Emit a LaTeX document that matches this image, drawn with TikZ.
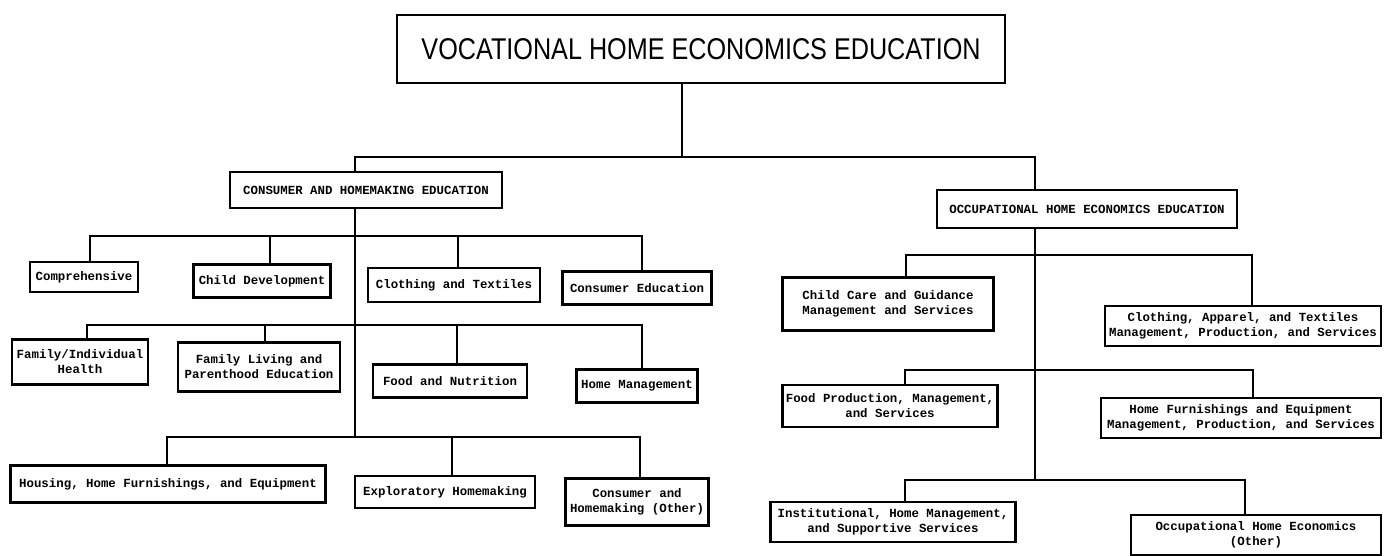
\documentclass[tikz,border=0pt]{standalone}
\usepackage{fontspec}
\newfontfamily\titlefont[FakeStretch=0.84]{Liberation Sans}
\newfontfamily\lblfont{Liberation Mono}
\begin{document}
\begin{tikzpicture}[x=1pt,y=-1pt,
  box/.style={draw, line width=2.5pt, inner sep=1pt, align=center,
    font=\lblfont\bfseries\fontsize{12.4}{15}\selectfont},
  titlebox/.style={draw, line width=1.8pt, inner sep=2pt, align=center,
    font=\titlefont\fontsize{30}{34}\selectfont},
  conn/.style={line width=2.4pt, line cap=rect},
  thin/.style={line width=1.6pt, line cap=rect}]
\useasboundingbox (0,0) rectangle (1384,556);

% title and main branches
\node[titlebox, minimum width=608pt, minimum height=68pt] (t) at (701,49) {VOCATIONAL HOME ECONOMICS EDUCATION};
\node[box, minimum width=272pt, minimum height=36pt] (ch) at (366,190) {CONSUMER AND HOMEMAKING EDUCATION};
\node[box, minimum width=300pt, minimum height=38pt] (oh) at (1087,209) {OCCUPATIONAL HOME ECONOMICS EDUCATION};

% consumer and homemaking children
\node[box, minimum width=108pt, minimum height=30pt] (c1) at (84,277) {Comprehensive};
\node[box, minimum width=137pt, minimum height=33pt] (c2) at (262,281) {Child Development};
\node[box, minimum width=172pt, minimum height=34pt] (c3) at (454,285) {Clothing and Textiles};
\node[box, minimum width=149pt, minimum height=33pt] (c4) at (637,288) {Consumer Education};
\node[box, minimum width=136pt, minimum height=45pt] (c5) at (80,362) {Family/Individual\\Health};
\node[box, minimum width=162pt, minimum height=49pt] (c6) at (259,367) {Family Living and\\Parenthood Education};
\node[box, minimum width=154pt, minimum height=33pt] (c7) at (450,381) {Food and Nutrition};
\node[box, minimum width=121pt, minimum height=33pt] (c8) at (637,386) {Home Management};
\node[box, minimum width=315pt, minimum height=37pt] (c9) at (168,484) {Housing, Home Furnishings, and Equipment};
\node[box, minimum width=180pt, minimum height=32pt] (c10) at (445,492) {Exploratory Homemaking};
\node[box, minimum width=143pt, minimum height=47pt] (c11) at (637,502) {Consumer and\\Homemaking (Other)};

% occupational children
\node[box, minimum width=211pt, minimum height=53pt] (o1) at (888,304) {Child Care and Guidance\\Management and Services};
\node[box, minimum width=276pt, minimum height=40pt] (o2) at (1243,326) {Clothing, Apparel, and Textiles\\Management, Production, and Services};
\node[box, minimum width=215pt, minimum height=42pt] (o3) at (890,406) {Food Production, Management,\\and Services};
\node[box, minimum width=280pt, minimum height=40pt] (o4) at (1241,418) {Home Furnishings and Equipment\\Management, Production, and Services};
\node[box, minimum width=245pt, minimum height=40pt] (o5) at (893,522) {Institutional, Home Management,\\and Supportive Services};
\node[box, minimum width=250pt, minimum height=40pt] (o6) at (1256,535) {Occupational Home Economics\\(Other)};

% junction coordinates
\coordinate (tb) at (682,157);
\coordinate (bl) at (355,157);
\coordinate (br) at (1035,157);
\coordinate (lh) at (355,437);
\coordinate (rh) at (1035,480);
% left rows
\coordinate (a1) at (90,236);  \coordinate (a2) at (270,236);
\coordinate (a3) at (458,236); \coordinate (a4) at (642,236);
\coordinate (b1) at (87,325);  \coordinate (b2) at (265,325);
\coordinate (b3) at (457,325); \coordinate (b4) at (642,325);
\coordinate (e1) at (167,437); \coordinate (e2) at (452,437);
\coordinate (e3) at (640,437);
% right rows
\coordinate (f1) at (906,255);  \coordinate (f2) at (1252,255);
\coordinate (g1) at (905,370);  \coordinate (g2) at (1253,370);
\coordinate (h1) at (905,480);  \coordinate (h2) at (1245,480);

% top connectors
\draw[thin] (tb |- t.south) -- (tb);
\draw[conn] (bl) -- (br);
\draw[conn] (bl) -- (bl |- ch.north);
\draw[conn] (br) -- (br |- oh.north);

% left tree
\draw[conn] (lh |- ch.south) -- (lh);
\draw[conn] (a1) -- (a4);
\draw[conn] (b1) -- (b4);
\draw[conn] (e1) -- (e3);
\draw[conn] (a1) -- (a1 |- c1.north);
\draw[conn] (a2) -- (a2 |- c2.north);
\draw[conn] (a3) -- (a3 |- c3.north);
\draw[conn] (a4) -- (a4 |- c4.north);
\draw[conn] (b1) -- (b1 |- c5.north);
\draw[conn] (b2) -- (b2 |- c6.north);
\draw[conn] (b3) -- (b3 |- c7.north);
\draw[conn] (b4) -- (b4 |- c8.north);
\draw[conn] (e1) -- (e1 |- c9.north);
\draw[conn] (e2) -- (e2 |- c10.north);
\draw[conn] (e3) -- (e3 |- c11.north);

% right tree
\draw[conn] (rh |- oh.south) -- (rh);
\draw[conn] (f1) -- (f2);
\draw[conn] (g1) -- (g2);
\draw[conn] (h1) -- (h2);
\draw[conn] (f1) -- (f1 |- o1.north);
\draw[conn] (f2) -- (f2 |- o2.north);
\draw[conn] (g1) -- (g1 |- o3.north);
\draw[conn] (g2) -- (g2 |- o4.north);
\draw[conn] (h1) -- (h1 |- o5.north);
\draw[conn] (h2) -- (h2 |- o6.north);
\end{tikzpicture}
\end{document}
